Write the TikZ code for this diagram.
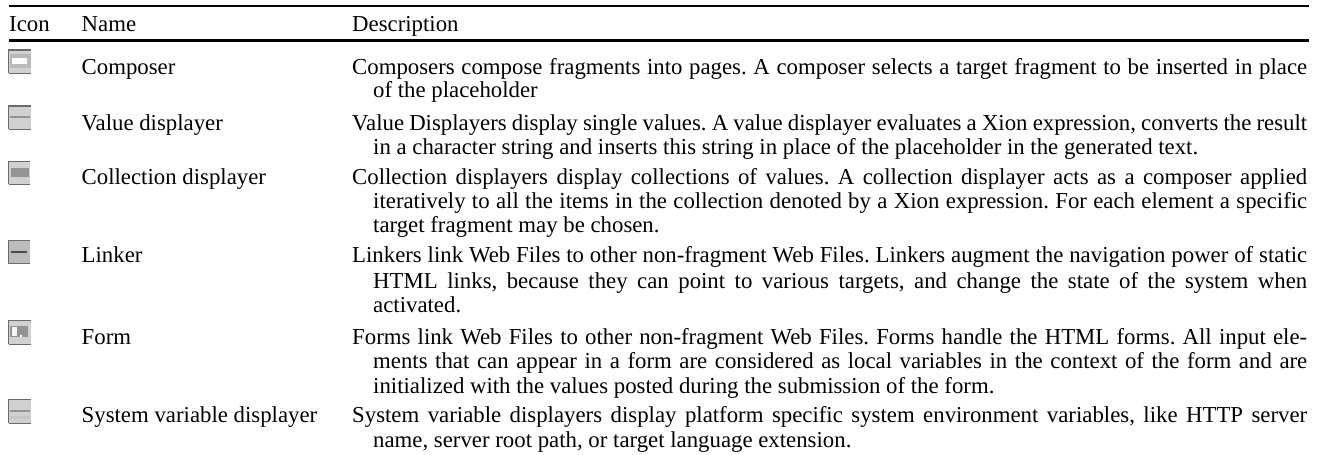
\documentclass[tikz,border=0pt]{standalone}
\usepackage{fontspec}
\setmainfont{Liberation Serif}
\frenchspacing
\definecolor{icb}{gray}{0.42}
\definecolor{icf}{gray}{0.82}
\tikzset{
  cell/.style={anchor=base west,inner sep=0pt,font=\fontsize{22.8}{24}\selectfont\frenchspacing},
  toprule/.style={draw=black,line width=2pt},
  headrule/.style={draw=black,line width=3pt},
  iconbox/.style={fill=icf},
  iconedge/.style={draw=icb,line width=1.2pt}
}
% full-width lines
\newcommand{\lineA}[3]{\node[cell] (#1) at (352,#2) {\hbox to 955pt{#3}};}
\newcommand{\lineB}[3]{\node[cell] (#1) at (373,#2) {\hbox to 934pt{#3}};}
% last lines, natural width
\newcommand{\lineC}[3]{\node[cell] (#1) at (373,#2) {#3};}
% icon frame: light fill, dark top and left edges, thinner bottom edge
\newcommand{\iconframe}[5]{%
  \fill[iconbox,#5] (#1,#2) rectangle (#3,#4);
  \draw[iconedge] (#1,#4) -- (#1,#2) -- (#3,#2);
  \draw[icb,line width=0.8pt] (#1,#4) -- (#3,#4);
}
\begin{document}
\begin{tikzpicture}[x=1pt,y=-1pt]
\useasboundingbox (0,0) rectangle (1320,455);
\fill[white] (0,0) rectangle (1320,455);
\coordinate (tl) at (9,5.6); \coordinate (tr) at (1309,5.6);
\coordinate (ml) at (9,40.3); \coordinate (mr) at (1309,40.3);
\path[toprule] (tl) -- (tr);
\path[headrule] (ml) -- (mr);
\node[cell] (hi) at (9,31) {Icon};
\node[cell] (hn) at (81.5,31) {Name};
\node[cell] (hd) at (352,31) {Description};
\node[cell] (n1) at (81.5,74) {Composer};
\node[cell] (n2) at (81.5,130) {Value displayer};
\node[cell] (n3) at (81.5,184.5) {Collection displayer};
\node[cell] (n4) at (81.5,262.7) {Linker};
\node[cell] (n5) at (81.5,344) {Form};
\node[cell] (n6) at (81.5,422.7) {System variable displayer};
\lineA{d1a}{74}{Composers compose fragments into pages. A composer selects a target fragment to be inserted in place}
\lineC{d1b}{97.5}{of the placeholder}
\lineA{d2a}{130}{Value Displayers display single values. A value displayer evaluates a Xion expression, converts the result}
\lineC{d2b}{154}{in a character string and inserts this string in place of the placeholder in the generated text.}
\lineA{d3a}{184.5}{Collection displayers display collections of values. A collection displayer acts as a composer applied}
\lineB{d3b}{208.5}{iteratively to all the items in the collection denoted by a Xion expression. For each element a specific}
\lineC{d3c}{232.7}{target fragment may be chosen.}
\lineA{d4a}{262.7}{Linkers link Web Files to other non-fragment Web Files. Linkers augment the navigation power of static}
\lineB{d4b}{288}{HTML links, because they can point to various targets, and change the state of the system when}
\lineC{d4c}{312.7}{activated.}
\lineA{d5a}{344}{Forms link Web Files to other non-fragment Web Files. Forms handle the HTML forms. All input ele-}
\lineB{d5b}{368.3}{ments that can appear in a form are considered as local variables in the context of the form and are}
\lineC{d5c}{393}{initialized with the values posted during the submission of the form.}
\lineA{d6a}{422.7}{System variable displayers display platform specific system environment variables, like HTTP server}
\lineC{d6b}{447}{name, server root path, or target language extension.}
% Composer icon
\iconframe{8.6}{50}{31}{73}{}
\fill[gray!55] (10,54) rectangle (31,68);
\fill[white] (12,58) rectangle (27,64);
% Value displayer icon
\iconframe{8.6}{106}{31}{129}{}
\fill[gray!85] (10,116) rectangle (30,118.2);
% Collection displayer icon
\iconframe{8.6}{161.5}{30}{184}{}
\fill[gray!60!black!60] (11,168) rectangle (29,177);
% Linker icon
\iconframe{8.6}{240.5}{30}{263.5}{fill=icf!90!black}
\fill[black!70] (10.7,250.5) rectangle (27,253);
% Form icon
\iconframe{8.6}{320.5}{31}{344}{}
\fill[gray!85] (10,326) rectangle (28,337);
\fill[white!92!gray] (11.7,327) rectangle (17.3,335.7);
\fill[white] (20,334.5) rectangle (22,337);
% System variable displayer icon
\iconframe{8.6}{399.5}{31}{423}{}
\fill[gray!85] (10,409.5) rectangle (30,412);
\fill[gray!45] (10,416) rectangle (30,419);
\end{tikzpicture}
\end{document}
